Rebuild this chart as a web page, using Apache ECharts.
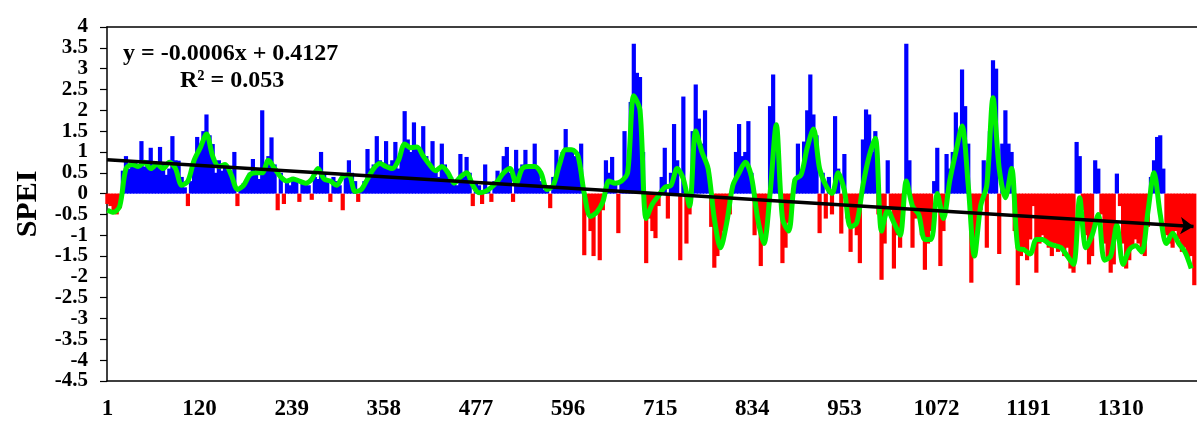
<!DOCTYPE html>
<html>
<head>
<meta charset="utf-8">
<script src="https://cdn.jsdelivr.net/npm/echarts@6/dist/echarts.min.js"></script>
<style>
  html, body { margin: 0; padding: 0; background: #ffffff; }
  #chart { width: 1197px; height: 421px; }
</style>
</head>
<body>
<div id="chart"></div>
<script>
// Month labels shown along the bottom axis
const xTickLabels = [1, 120, 239, 358, 477, 596, 715, 834, 953, 1072, 1191, 1310];

// Monthly SPEI values, one value every 4 months starting at month 1
const barStartMonth = 1;
const barStepMonths = 4;
const speiMonthly = [
  -0.25, -0.3, -0.45, -0.5, -0.35, 0.55, 0.9, 0.6, 0.7, 0.75,
  0.7, 1.26, 0.65, 0.8, 1.1, 0.6, 0.75, 1.12, 0.7, 0.45,
  0.6, 1.38, 0.8, 0.79, 0.4, 0.15, -0.3, 0.3, 0.7, 1.36,
  1.2, 1.5, 1.9, 1.4, 1.19, 0.5, 0.8, 0.55, 0.7, 0.6,
  0.5, 1.0, -0.3, 0.1, 0.25, 0.3, 0.5, 0.83, 0.45, 0.35,
  2.0, 0.6, 0.9, 1.35, 0.7, -0.4, 0.5, -0.25, 0.3, 0.2,
  0.4, 0.35, -0.2, 0.3, 0.25, 0.2, -0.15, 0.4, 0.35, 1.0, 0.5,
  0.3, -0.2, 0.4, 0.3, 0.2, -0.4, 0.4, 0.8, 0.5, 0.3,
  -0.2, 0.1, 0.3, 1.07, 0.6, 0.7, 1.38, 0.8, 0.7, 1.26,
  0.7, 0.8, 1.24, 0.6, 1.0, 1.98, 1.3, 1.0, 1.71, 1.1,
  1.0, 1.62, 0.9, 0.7, 1.26, 0.6, 0.4, 1.2, 0.7, 0.5,
  0.4, 0.3, 0.2, 0.95, 0.4, 0.88, 0.5, -0.3, 0.3, 0.2,
  -0.25, 0.7, 0.1, -0.2, 0.3, 0.55, 0.4, 0.9, 1.12, 0.5,
  -0.2, 1.05, 0.6, 0.7, 1.05, 0.6, 0.7, 1.2, 0.6, 0.3,
  0.1, 0.1, -0.35, 0.4, 1.05, 0.8, 1.0, 1.55, 1.1, 1.0, 0.9,
  1.0, 1.2, -1.48, -0.5, -0.9, -1.5, -0.5, -1.6, -0.4, 0.8,
  0.5, 0.88, 0.3, -0.95, 0.3, 1.5, 0.5, 2.2, 3.6, 2.9,
  2.8, 1.0, -1.67, -0.6, -0.9, -1.07, -0.3, 0.4, 1.1, -0.6,
  0.5, 1.67, 0.8, -1.6, 2.33, -1.2, -0.5, 1.5, 2.62, 1.8,
  1.2, 2.0, 0.6, -0.8, -1.78, -1.5, -1.3, -0.9, -0.7, -0.5,
  0.2, 1.0, 1.67, 0.9, 1.0, 1.74, 0.5, -1.0, -0.6, -1.74,
  -1.2, -0.8, 2.1, 2.86, 1.5, 0.3, -1.67, -1.3, -0.7, -0.3,
  0.3, 1.2, 0.5, 1.25, 2.0, 2.86, 1.9, 1.4, -0.95, 0.5,
  -0.6, 0.4, -0.5, 1.86, 0.6, -0.96, 0.95, -0.6, -1.4, -0.8,
  -1.0, -1.67, 1.3, 2.02, 1.9, 1.0, 1.5, -0.5, -2.07, -1.2,
  0.8, -0.4, -1.8, -1.0, -1.3, -0.3, 3.6, 0.8, -1.3, -0.6,
  -0.5, -1.0, -1.83, -1.2, -0.9, 0.3, 1.1, -1.74, -0.9, 0.95,
  0.6, 1.0, 1.95, 1.3, 2.98, 2.1, 1.2, -2.14, -1.5, -0.8,
  -0.4, 0.8, -1.3, 1.5, 3.2, 3.0, -1.45, 1.2, 2.0, 1.2,
  1.0, -0.9, -2.2, -1.5, -1.3, -1.6, -1.1, -0.3, -1.9, -1.2,
  -1.0, -1.1, -1.3, -1.5, -1.2, -1.4, -1.3, -1.5, -1.3, -1.8, -1.9,
  1.24, 0.9, -0.4, -1.0, -1.7, -1.5, 0.8, 0.6, -0.5, -1.2,
  -1.6, -1.9, -1.7, 0.48, -0.3, -1.2, -1.8, -1.6, -1.3, -1.1,
  -1.2, -1.4, -1.5, -0.8, 0.4, 0.8, 1.36, 1.4, 0.6, -1.0,
  -1.2, -1.3, -0.9, -1.1, -1.4, -1.3, -1.6, -1.5, -2.2
];

// Smoothed SPEI curve, one value every 8 months starting at month 1
const smoothStartMonth = 1;
const smoothStepMonths = 8;
const speiSmoothed = [
  -0.4, -0.45, -0.3, 0.6, 0.7, 0.65, 0.75, 0.6, 0.7, 0.6,
  0.75, 0.6, 0.2, 0.3, 0.8, 1.1, 1.43, 0.9, 0.65, 0.7,
  0.45, 0.1, 0.2, 0.45, 0.5, 0.5, 0.8, 0.6, 0.4, 0.3,
  0.35, 0.3, 0.25, 0.35, 0.6, 0.35, 0.3, 0.2, 0.4, 0.45,
  0.05, 0.1, 0.35, 0.6, 0.72, 0.65, 0.6, 0.8, 1.19, 1.1,
  1.12, 0.9, 0.7, 0.55, 0.65, 0.5, 0.25, 0.4, 0.5, 0.2,
  0.02, 0.05, 0.15, 0.3, 0.5, 0.6, 0.25, 0.6, 0.65, 0.65, 0.5,
  0.1, 0.2, 0.7, 1.05, 1.05, 0.9, 0.0, -0.55, -0.45, -0.2,
  0.3, 0.25, 0.3, 0.5, 2.35, 2.0, -0.6, -0.25, -0.05, 0.15,
  0.2, 0.6, 0.35, -0.3, 1.5, 1.0, 0.6, -0.6, -1.3, -0.7,
  0.2, 0.5, 0.75, 0.4, -0.6, -1.2, 0.0, 1.65, -0.6, -0.9,
  0.33, 0.45, 1.1, 1.55, 0.6, 0.2, 0.0, 0.5, 0.07, -0.8,
  -0.7, 0.2, 0.9, 1.33, -0.9, -0.4, -0.7, -1.0, 0.3, -0.3,
  -0.5, -1.1, -1.1, 0.0, -0.6, 0.3, 1.0, 1.62, 0.2, -1.5,
  -0.3, 0.2, 2.3, 0.6, -0.1, 0.6, -1.3, -1.35, -1.45, -1.1,
  -1.1, -1.2, -1.25, -1.3, -1.5, -1.7, -0.1, -1.3, -1.0, -0.5,
  -1.6, -1.5, -0.75, -1.7, -1.35, -1.25, -1.4, -0.45, 0.5, -0.5,
  -1.2, -0.95, -1.2, -1.4, -1.8
];

// Linear trend line end points [month, SPEI]
const trendLine = [[0.5, 0.81], [1404, -0.79]];

// Regression text
const equationLines = ['y = -0.0006x + 0.4127', 'R\u00B2 = 0.053'];

const serif = '"Liberation Serif", "Times New Roman", serif';
const posColor = '#0000ff';
const negColor = '#ff0000';

const barData = speiMonthly.map((v, i) => {
  const c = v >= 0 ? posColor : negColor;
  return {
    value: [barStartMonth + i * barStepMonths, v],
    itemStyle: { color: c }
  };
});
const smoothData = speiSmoothed.map((v, i) => [smoothStartMonth + i * smoothStepMonths, v]);

const chart = echarts.init(document.getElementById('chart'), null, { renderer: 'canvas' });

chart.setOption({
  animation: false,
  backgroundColor: '#ffffff',
  grid: { left: 107, right: 0, top: 27, bottom: 37 },
  xAxis: [
    {
      type: 'value',
      min: 0.5,
      max: 1408.5,
      axisLine: { show: true, onZero: false, lineStyle: { color: '#000', width: 1.5 } },
      axisTick: { show: false },
      splitLine: { show: false },
      axisLabel: {
        customValues: xTickLabels,
        margin: 17,
        formatter: (v) => String(v),
        color: '#000',
        fontFamily: serif,
        fontWeight: 'bold',
        fontSize: 23
      }
    },
    {
      type: 'value',
      position: 'top',
      min: 0.5,
      max: 1408.5,
      axisLine: { show: true, onZero: false, lineStyle: { color: '#000', width: 1.5 } },
      axisTick: { show: false },
      axisLabel: { show: false },
      splitLine: { show: false }
    }
  ],
  yAxis: {
    type: 'value',
    min: -4.5,
    max: 4,
    interval: 0.5,
    name: 'SPEI',
    nameLocation: 'middle',
    nameRotate: 90,
    nameGap: 64,
    nameTextStyle: { color: '#000', fontFamily: serif, fontWeight: 'bold', fontSize: 30 },
    axisLine: { show: true, onZero: false, lineStyle: { color: '#000', width: 1.5 } },
    axisTick: { show: true, inside: false, length: 7, lineStyle: { color: '#000', width: 1.2 } },
    splitLine: { show: false },
    axisLabel: {
      margin: 19,
      color: '#000',
      fontFamily: serif,
      fontWeight: 'bold',
      fontSize: 21
    }
  },
  graphic: [
    {
      type: 'text',
      left: 123,
      top: 42,
      style: { text: equationLines[0], fill: '#000', font: 'bold 24px ' + serif }
    },
    {
      type: 'text',
      left: 180,
      top: 69,
      style: { text: equationLines[1], fill: '#000', font: 'bold 24px ' + serif }
    }
  ],
  series: [
    {
      type: 'bar',
      data: barData,
      barWidth: 4.2,
      barMinWidth: 4.2,
      silent: true
    },
    {
      type: 'line',
      data: [],
      silent: true,
      markLine: {
        silent: true,
        symbol: ['none', 'arrow'],
        symbolSize: 13,
        label: { show: false },
        lineStyle: { color: '#000', width: 3.5, type: 'solid' },
        data: [[{ coord: trendLine[0] }, { coord: trendLine[1] }]]
      }
    },
    {
      type: 'line',
      data: smoothData,
      showSymbol: false,
      symbol: 'none',
      smooth: 0.3,
      silent: true,
      lineStyle: { color: '#00f000', width: 5 }
    }
  ]
});
</script>
</body>
</html>
